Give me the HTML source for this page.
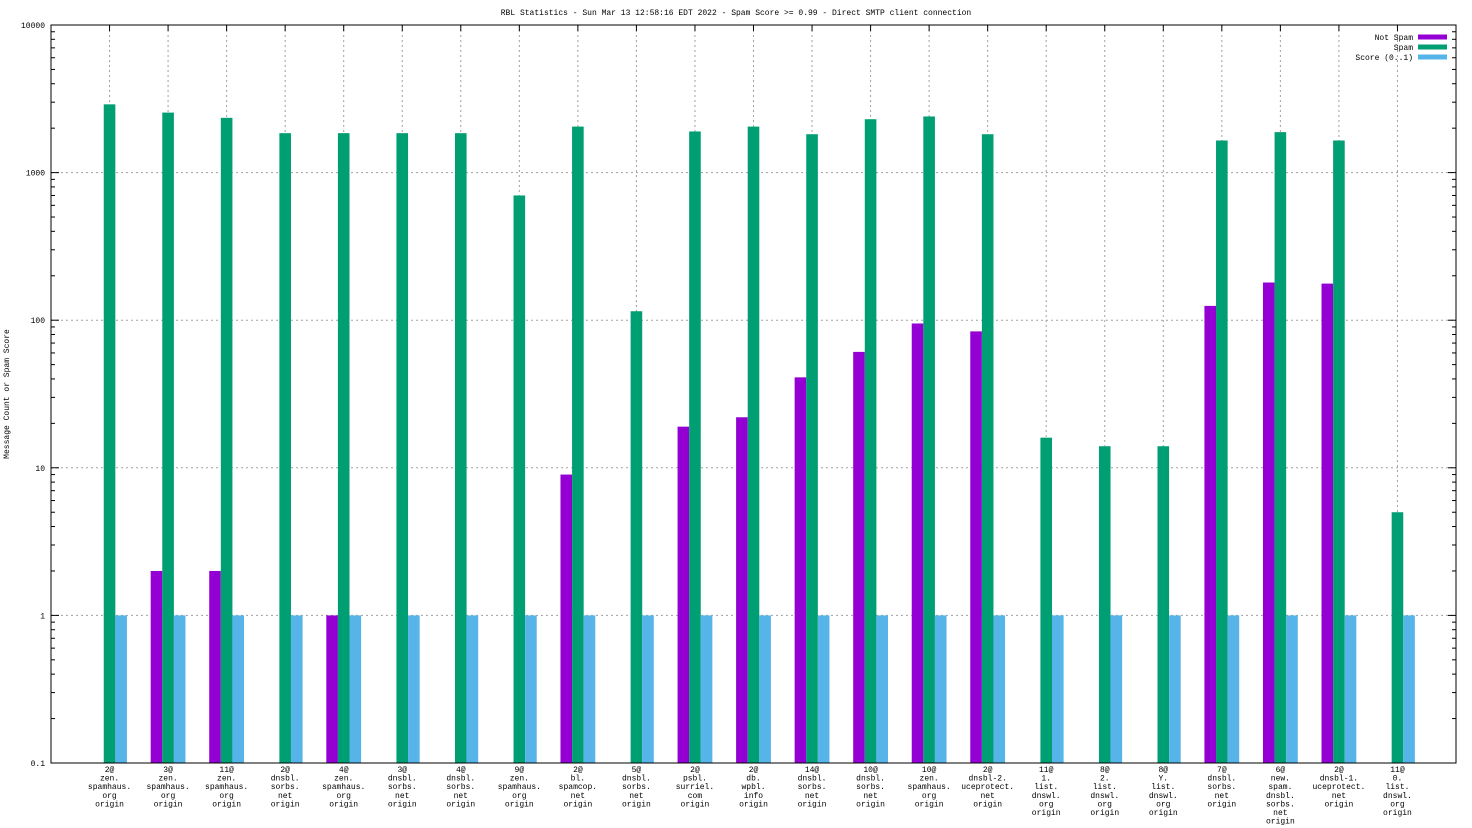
<!DOCTYPE html>
<html><head><meta charset="utf-8"><style>
body{margin:0;background:#fff}
svg{display:block;font-family:"Liberation Mono","DejaVu Sans Mono",monospace}
</style></head><body>
<svg id="c" width="1472" height="828" xmlns="http://www.w3.org/2000/svg">
<text x="736" y="15" font-size="8" text-anchor="middle">RBL Statistics - Sun Mar 13 12:58:16 EDT 2022 - Spam Score &gt;= 0.99 - Direct SMTP client connection</text>
<text transform="translate(9,394) rotate(-90)" font-size="8" text-anchor="middle">Message Count or Spam Score</text>
</svg>
<script>
const categories=[
["2@","zen.","spamhaus.","org","origin"],["3@","zen.","spamhaus.","org","origin"],["11@","zen.","spamhaus.","org","origin"],
["2@","dnsbl.","sorbs.","net","origin"],["4@","zen.","spamhaus.","org","origin"],["3@","dnsbl.","sorbs.","net","origin"],
["4@","dnsbl.","sorbs.","net","origin"],["9@","zen.","spamhaus.","org","origin"],["2@","bl.","spamcop.","net","origin"],
["5@","dnsbl.","sorbs.","net","origin"],["2@","psbl.","surriel.","com","origin"],["2@","db.","wpbl.","info","origin"],
["14@","dnsbl.","sorbs.","net","origin"],["10@","dnsbl.","sorbs.","net","origin"],["10@","zen.","spamhaus.","org","origin"],
["2@","dnsbl-2.","uceprotect.","net","origin"],["11@","1.","list.","dnswl.","org","origin"],["8@","2.","list.","dnswl.","org","origin"],
["8@","Y.","list.","dnswl.","org","origin"],["7@","dnsbl.","sorbs.","net","origin"],["6@","new.","spam.","dnsbl.","sorbs.","net","origin"],
["2@","dnsbl-1.","uceprotect.","net","origin"],["11@","0.","list.","dnswl.","org","origin"]];
const notSpam=[0,2,2,0,1,0,0,0,9,0,19,22,41,61,95,84,0,0,0,125,180,177,0];
const spam=[2900,2550,2350,1850,1850,1850,1850,700,2050,115,1900,2050,1820,2300,2400,1820,16,14,14,1650,1880,1650,5];
const score=[1,1,1,1,1,1,1,1,1,1,1,1,1,1,1,1,1,1,1,1,1,1,1];
const yTicks=[0.1,1,10,100,1000,10000];
const yTickLabels=["0.1","1","10","100","1000","10000"];

const L=51,R=1456,T=25,B=763;
const svg=document.getElementById('c');
const NS='http://www.w3.org/2000/svg';
function el(t,a){const e=document.createElementNS(NS,t);for(const k in a)e.setAttribute(k,a[k]);svg.appendChild(e);return e;}
const y=v=>B-(Math.log10(v)+1)/5*(B-T);
const step=(R-L)/(categories.length+1);
const x=i=>L+(i+1)*step;
const bw=11.6;
yTicks.forEach((v,i)=>{
  if(i>0&&i<yTicks.length-1){const g=el('line',{x1:L,x2:R,y1:y(v),y2:y(v),stroke:'#a0a0a0','stroke-dasharray':'2,3','stroke-width':1});
  }
  const t=el('text',{x:L-6,y:y(v)+3,'font-size':8,'text-anchor':'end'});t.textContent=yTickLabels[i];
  
  el('line',{x1:L,x2:L+8,y1:y(v),y2:y(v),stroke:'#000'});el('line',{x1:R,x2:R-8,y1:y(v),y2:y(v),stroke:'#000'});
  if(i<yTicks.length-1)for(let m=2;m<10;m++){const yy=y(v*m);el('line',{x1:L,x2:L+4,y1:yy,y2:yy,stroke:'#000'});el('line',{x1:R,x2:R-4,y1:yy,y2:yy,stroke:'#000'});}
});
categories.forEach((c,i)=>{
  const g=el('line',{x1:x(i),x2:x(i),y1:T,y2:B,stroke:'#a0a0a0','stroke-dasharray':'2,3'});
  
  el('line',{x1:x(i),x2:x(i),y1:B,y2:B-6,stroke:'#000'});el('line',{x1:x(i),x2:x(i),y1:T,y2:T+6,stroke:'#000'});
  c.forEach((s,j)=>{const t=el('text',{x:x(i),y:772+j*8.6,'font-size':8,'text-anchor':'middle'});t.textContent=s;
  });
});
function bars(arr,off,col,name){arr.forEach((v,i)=>{if(v<=0)return;const yy=y(v);
  const r=el('rect',{x:x(i)+off-bw/2,y:yy,width:bw,height:B-yy,fill:col});
  });}
bars(notSpam,-bw,'#9400d3','bar-not-spam');
bars(spam,0,'#009e73','bar-spam');
bars(score,bw,'#56b4e9','bar-score');
const f=el('rect',{x:L,y:T,width:R-L,height:B-T,fill:'none',stroke:'#000'});

const lg=[["Not Spam",'#9400d3'],["Spam",'#009e73'],["Score (0..1)",'#56b4e9']];
lg.forEach((l,i)=>{const yy=37+i*10;
  const t=el('text',{x:1413,y:yy+3,'font-size':8,'text-anchor':'end'});t.textContent=l[0];
  
  const r=el('rect',{x:1418,y:yy-2.5,width:29,height:5,fill:l[1]});
  });
</script>
</body></html>
